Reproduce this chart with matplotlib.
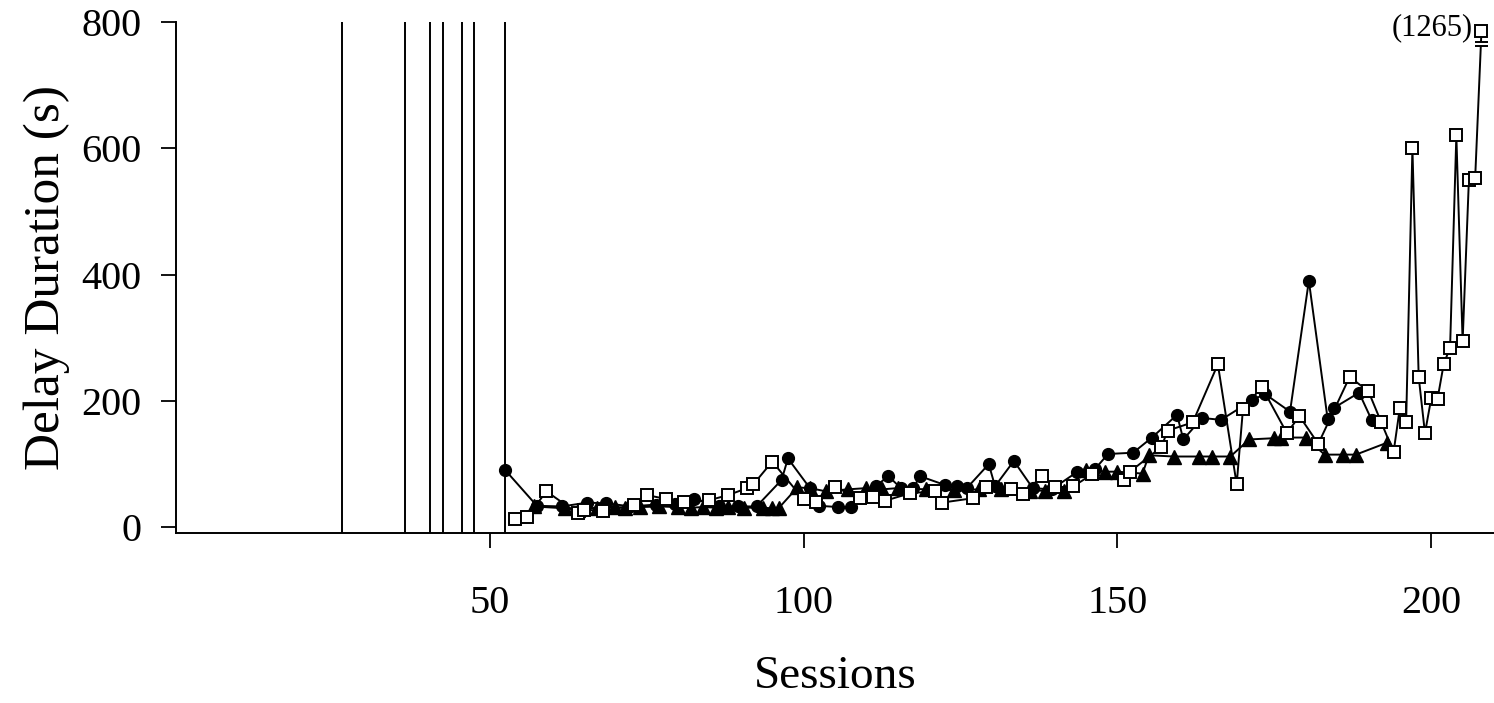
import matplotlib
matplotlib.use("Agg")
import matplotlib.pyplot as plt
from matplotlib.patches import Rectangle

plt.rcParams['font.family'] = ['Liberation Serif', 'DejaVu Serif']

# ---- data ----
baseline_lines = [26.5, 36.5, 40.5, 42.5, 45.5, 47.5, 52.5]

sq_x = [54, 56, 59, 64, 65, 68, 73, 75, 78, 81, 85, 88, 91, 92, 95, 100, 102, 105, 109, 111,
        113, 117, 121, 122, 127, 129, 133, 135, 138, 140, 143, 146, 151, 152, 157, 158, 162, 166, 169, 170,
        173, 177, 179, 182, 187, 190, 192, 194, 195, 196, 197, 198, 199, 200, 201, 202, 203, 204, 205, 206,
        207, 208]
sq_y = [13, 16, 57, 22, 28, 26, 35, 51, 45, 40, 43, 51, 62, 68, 104, 44, 40, 63, 47, 48,
        42, 54, 57, 39, 46, 64, 61, 53, 81, 63, 65, 84, 75, 88, 127, 153, 166, 258, 68, 187,
        222, 149, 176, 132, 238, 215, 167, 119, 189, 166, 600, 238, 149, 204, 203, 259, 284, 620, 294, 550,
        553, 1265]

ci_x = [52.5, 57.5, 61.5, 65.5, 68.5, 72.5, 76.5, 79.5, 82.5, 86.5, 89.5, 92.5, 96.5, 97.5, 101, 102.5,
        105.5, 107.5, 111.5, 113.5, 115.5, 117.5, 118.5, 122.5, 124.5, 126, 129.5, 130.5, 133.5, 136.5,
        139.5, 143.5, 146.5, 148.5, 152.5, 155.5, 159.5, 160.5, 163.5, 166.5, 171.5, 173.5, 177.5, 180.5,
        183.5, 184.5, 188.5, 190.5]
ci_y = [90, 34, 33, 39, 38, 33, 36, 37, 45, 33, 33, 33, 75, 109, 62, 34,
        32, 32, 65, 81, 62, 62, 81, 67, 65, 62, 100, 65, 105, 62,
        60, 87, 93, 116, 118, 142, 178, 139, 173, 170, 201, 211, 183, 390,
        171, 189, 213, 170]

tr_x = [57, 62, 64, 67, 70, 71.5, 74, 77, 80, 82, 84, 86, 88, 90.5, 93.5, 95, 96, 99, 101, 103.5,
        107, 110, 112.5, 115, 119.5, 124, 128, 131.5, 136, 138.5, 141.5, 145, 148, 150, 154, 155, 159, 163,
        165, 168, 171, 175, 176, 180, 183, 186, 188, 193]
tr_y = [33, 30, 28, 31, 32, 31, 32, 33, 32, 31, 32, 31, 32, 31, 31, 30, 30, 63, 62, 57,
        60, 62, 60, 62, 60, 59, 60, 60, 58, 58, 57, 91, 88, 88, 85, 114, 112, 112,
        112, 112, 139, 141, 142, 142, 115, 115, 115, 134]

x_ticks = [50, 100, 150, 200]
y_ticks = [0, 200, 400, 600, 800]
TOP_SHOWN = 785  # off-scale value drawn at the top of the axis

fig = plt.figure(figsize=(14.94, 7.03), dpi=100)
ax = fig.add_axes([0.1178, 0.2414, 0.8822, 0.7277])

ax.vlines(baseline_lines, -9.5, 800, color='black', lw=1.4, zorder=1)

ax.plot(ci_x, ci_y, '-', color='black', lw=1.4, marker='o', ms=8.5,
        mfc='black', mec='black', zorder=2)
ax.plot(tr_x, tr_y, '-', color='black', lw=1.4, marker='^', ms=10,
        mfc='black', mec='black', zorder=3)
sq_shown = [min(v, TOP_SHOWN) for v in sq_y]
ax.plot(sq_x, sq_shown, '-', color='black', lw=1.4, marker='s', ms=9,
        mfc='white', mec='black', mew=1.4, zorder=4)

# axis break marks under the off-scale point
bx = sq_x[-1]
ax.add_patch(Rectangle((bx - 1.1, 761), 2.2, 7, facecolor='white', edgecolor='none', zorder=5))
ax.hlines([761, 768], bx - 1.1, bx + 1.1, color='black', lw=1.4, zorder=6)
ax.text(bx - 1.4, 791, '(%d)' % sq_y[-1], ha='right', va='center', fontsize=22, zorder=6)

ax.set_xlim(0, 210)
ax.set_ylim(-9.5, 800)
ax.set_xticks(x_ticks)
ax.set_yticks(y_ticks)
ax.spines['top'].set_visible(False)
ax.spines['right'].set_visible(False)
for s in ['left', 'bottom']:
    ax.spines[s].set_linewidth(1.4)
ax.tick_params(axis='both', direction='out', length=11, width=1.3, labelsize=29)
ax.tick_params(axis='x', pad=26)
ax.tick_params(axis='y', pad=14)

ax.set_xlabel('Sessions', fontsize=34, labelpad=24)
ax.set_ylabel('Delay Duration (s)', fontsize=37, labelpad=8)

fig.savefig('out.png', dpi=100)
